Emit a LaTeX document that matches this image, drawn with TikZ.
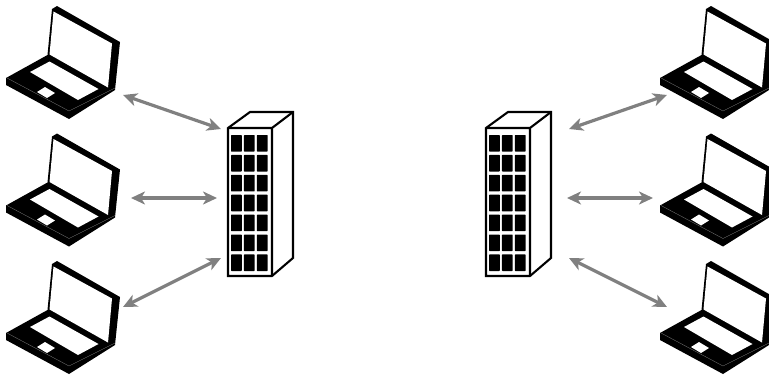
\documentclass[tikz,border=0pt]{standalone}
\usetikzlibrary{arrows.meta}
\definecolor{linkgray}{HTML}{808080}
\tikzset{
  x=1pt,y=-1pt,
  link/.style={draw=linkgray,line width=3.2pt,{Stealth[length=14pt,width=13pt,inset=4pt]}-{Stealth[length=14pt,width=13pt,inset=4pt]}},
  laptop/.pic={
    \fill[black,line join=round] (52,9) -- (57,6) -- (120,42) -- (115,90) -- (69,119) -- (6,85) -- (6,78) -- (47.5,55) -- cycle;
    \fill[white] (53.5,11.5) -- (112,43.5) -- (108,87.5) -- (49.5,54.5) -- cycle;
    \fill[white] (30,72) -- (49.5,61.5) -- (98.5,89) -- (78,100) -- cycle;
    \fill[white] (37,92) -- (45,87) -- (55,93) -- (47,98) -- cycle;
    \draw[white!45!black,line width=.35pt] (7,78) -- (69,111) -- (115,88);
  },
  building/.pic={
    \draw[black,fill=white,line width=2.1pt,line join=miter] (0,16) -- (22,0) -- (65,0) -- (65,146) -- (44,164) -- (0,164) -- cycle;
    \draw[black,line width=2.1pt] (0,16) -- (44,16) -- (65,0) (44,16) -- (44,164);
    \foreach \r in {0,...,6}{
      \foreach \c in {0,1,2}{
        \fill[black,rounded corners=.6pt] ({3+12.9*\c},{23+19.9*\r}) rectangle ++(10.8,16.6);
      }
    }
  }
}
\begin{document}
\begin{tikzpicture}
\useasboundingbox (0,0) rectangle (769,375);
\pic at (0,0) {laptop};
\pic at (0,127.5) {laptop};
\pic at (0,255) {laptop};
\pic at (654,0) {laptop};
\pic at (654,127.5) {laptop};
\pic at (654,255) {laptop};
\pic at (228,112) {building};
\pic at (486,112) {building};
\coordinate (la) at (123,95);
\coordinate (lb) at (131,198);
\coordinate (lc) at (123,307);
\coordinate (sa) at (221,129);
\coordinate (sb) at (217,198);
\coordinate (sc) at (221,258);
\coordinate (ta) at (569,129);
\coordinate (tb) at (567,198);
\coordinate (tc) at (569,258);
\coordinate (ra) at (667,95);
\coordinate (rb) at (653,198);
\coordinate (rc) at (667,307);
\draw[link] (la) -- (sa);
\draw[link] (lb) -- (sb);
\draw[link] (lc) -- (sc);
\draw[link] (ta) -- (ra);
\draw[link] (tb) -- (rb);
\draw[link] (tc) -- (rc);
\end{tikzpicture}
\end{document}
